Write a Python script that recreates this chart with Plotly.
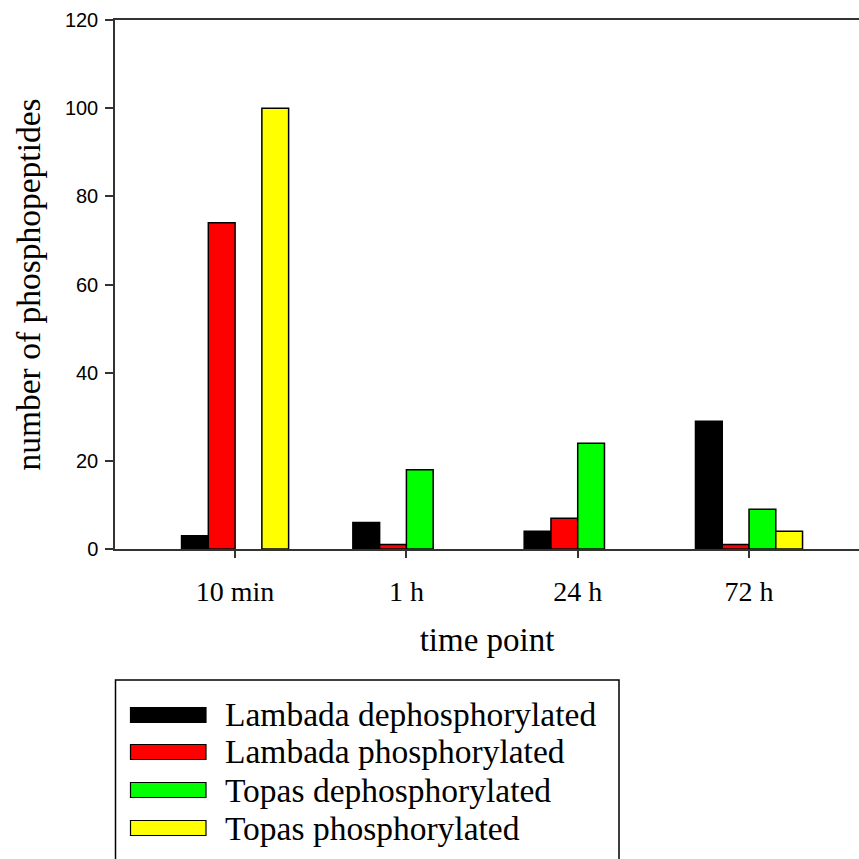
import plotly.graph_objects as go

categories = ["10 min", "1 h", "24 h", "72 h"]
series_names = ["Lambada dephosphorylated", "Lambada phosphorylated",
                "Topas dephosphorylated", "Topas phosphorylated"]
lambada_dephos = [3, 6, 4, 29]
lambada_phos = [74, 1, 7, 1]
topas_dephos = [0, 18, 24, 9]
topas_phos = [100, 0, 0, 4]
series_values = [lambada_dephos, lambada_phos, topas_dephos, topas_phos]
colors = ["#000000", "#ff0000", "#00ff00", "#ffff00"]
y_ticks = [0, 20, 40, 60, 80, 100, 120]

W, H = 859, 859
ML, MR, MT, MB = 115, 0, 20, 310
PW, PH = W - ML - MR, H - MT - MB

def px(x):
    return (x - ML) / PW

def py(y):
    return (H - MB - y) / PH

fig = go.Figure()
for name, vals, col in zip(series_names, series_values, colors):
    fig.add_trace(go.Bar(
        x=list(range(len(categories))), y=vals, name=name,
        marker=dict(color=col,
                    line=dict(color="#000000",
                              width=[1.5 if v else 0 for v in vals])),
        showlegend=False,
    ))

serif = "Liberation Serif"
sans = "Liberation Sans"

fig.update_layout(
    width=W, height=H,
    margin=dict(l=ML, r=MR, t=MT, b=MB, pad=0),
    paper_bgcolor="white", plot_bgcolor="white",
    barmode="group", bargap=0.375, bargroupgap=0,
    xaxis=dict(
        range=[-0.701, 3.642], tickmode="array",
        tickvals=list(range(len(categories))), ticktext=categories,
        ticks="outside", ticklen=7, tickwidth=1.5, tickcolor="#333333",
        showline=True, linecolor="#333333", linewidth=2, mirror=True,
        showgrid=False, zeroline=False,
        tickfont=dict(family=serif, size=28, color="black"),
        ticklabelstandoff=9,
        title=dict(text="time point", font=dict(family=serif, size=33, color="black"),
                   standoff=22),
    ),
    yaxis=dict(
        range=[0, 120], tickmode="array", tickvals=y_ticks,
        ticks="outside", ticklen=8, tickwidth=1.5, tickcolor="#333333",
        showline=True, linecolor="#333333", linewidth=1.5,
        showgrid=False, zeroline=False,
        tickfont=dict(family=sans, size=20, color="black"),
        ticklabelstandoff=3,
        title=dict(text="number of phosphopeptides",
                   font=dict(family=serif, size=33.5, color="black"), standoff=14),
    ),
)

# legend drawn manually (wide swatches, boxed)
shapes = [dict(type="rect", xref="paper", yref="paper",
               x0=px(115.5), x1=px(619), y0=py(680), y1=py(880),
               line=dict(color="black", width=1.5), fillcolor="rgba(0,0,0,0)")]
annotations = []
row_centers = [715, 752, 790, 828]
for name, col, yc in zip(series_names, colors, row_centers):
    shapes.append(dict(type="rect", xref="paper", yref="paper",
                       x0=px(130.5), x1=px(206), y0=py(yc - 7.5), y1=py(yc + 7.5),
                       line=dict(color="black", width=1.2), fillcolor=col))
    annotations.append(dict(text=name, xref="paper", yref="paper",
                            x=px(223), y=py(yc), xanchor="left", yanchor="middle",
                            showarrow=False,
                            font=dict(family=serif, size=33.5, color="black")))
fig.update_layout(shapes=shapes, annotations=annotations)

fig.write_html("out.html", config={"displayModeBar": False},
               post_script="document.body.style.margin='0px';document.body.style.overflow='hidden';")
